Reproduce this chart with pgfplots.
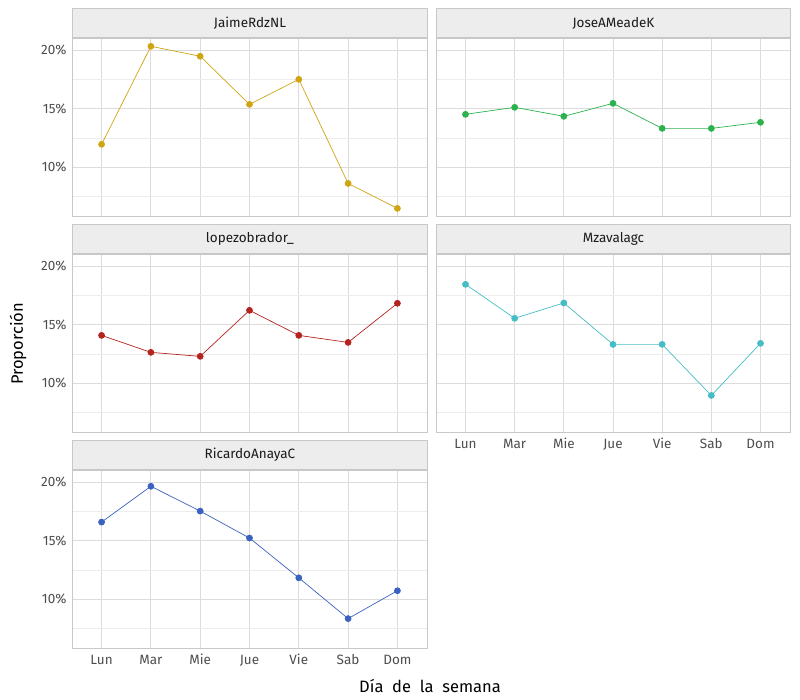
\documentclass[border=0pt]{standalone}
\usepackage{fontspec}
\setmainfont{Fira Sans}
\usepackage{pgfplots}
\pgfplotsset{compat=1.18}
\definecolor{cJaime}{HTML}{CFA514}
\definecolor{cJose}{HTML}{2BB24C}
\definecolor{cLopez}{HTML}{B5231F}
\definecolor{cMza}{HTML}{45BDC4}
\definecolor{cRic}{HTML}{3A62BF}
\definecolor{gridmajor}{HTML}{DCDCDC}
\definecolor{gridminor}{HTML}{EDEDED}
\definecolor{panelborder}{HTML}{C8C8C8}
\definecolor{stripfill}{HTML}{EDEDED}
\definecolor{ticktext}{HTML}{4D4D4D}
\definecolor{striptext}{HTML}{1A1A1A}
\tikzset{
  strip/.style={fill=stripfill, draw=panelborder, line width=0.9pt, minimum width=355pt, minimum height=29pt,
    anchor=south west, inner sep=0pt, font=\fontsize{13.5}{15}\selectfont, text=striptext},
}
\pgfplotsset{
  panel/.style={
    scale only axis, width=355pt, height=178pt, anchor=south west,
    xmin=-0.6, xmax=6.6, ymin=5.85, ymax=21.05,
    xtick={0,1,2,3,4,5,6}, xticklabels={Lun,Mar,Mie,Jue,Vie,Sab,Dom},
    ytick={10,15,20}, minor ytick={7.5,12.5,17.5},
    grid=both,
    major grid style={draw=gridmajor, line width=0.9pt},
    minor grid style={draw=gridminor, line width=0.7pt},
    axis line style={draw=panelborder, line width=0.9pt},
    major tick length=0pt, minor tick length=0pt,
    /pgf/number format/assume math mode=true,
    yticklabel={\pgfmathprintnumber{\tick}\%},
    tick label style={font=\fontsize{13.5}{15}\selectfont, text=ticktext},
    xticklabel style={yshift=-5pt, text height=1.5ex, text depth=0.3ex},
    yticklabel style={xshift=-2pt},
    clip=false,
  },
  ser/.style={line width=0.7pt, color=#1, mark=*, mark size=3pt, mark options={fill=#1, draw=#1}},
}
\begin{document}
\begin{tikzpicture}[x=1pt,y=1pt]
\path[use as bounding box] (0,0) rectangle (800,700);
% Row 1 left: JaimeRdzNL
\begin{axis}[panel, at={(72pt,484pt)}, xticklabels={}]
\addplot[ser=cJaime] coordinates {(0,11.97) (1,20.34) (2,19.49) (3,15.38) (4,17.52) (5,8.63) (6,6.50)};
\end{axis}
\node[strip] at (current axis.north west) {JaimeRdzNL};
% Row 1 right: JoseAMeadeK
\begin{axis}[panel, at={(436pt,484pt)}, width=354pt, xticklabels={}, yticklabels={}]
\addplot[ser=cJose] coordinates {(0,14.53) (1,15.13) (2,14.36) (3,15.47) (4,13.33) (5,13.33) (6,13.85)};
\end{axis}
\node[strip, minimum width=354pt] at (current axis.north west) {JoseAMeadeK};
% Row 2 left: lopezobrador_
\begin{axis}[panel, at={(72pt,268pt)}, xticklabels={}]
\addplot[ser=cLopez] coordinates {(0,14.10) (1,12.65) (2,12.31) (3,16.24) (4,14.10) (5,13.50) (6,16.84)};
\end{axis}
\node[strip] at (current axis.north west) {lopezobrador\_};
% Row 2 right: Mzavalagc
\begin{axis}[panel, at={(436pt,268pt)}, width=354pt, yticklabels={}]
\addplot[ser=cMza] coordinates {(0,18.46) (1,15.56) (2,16.87) (3,13.33) (4,13.33) (5,8.97) (6,13.42)};
\end{axis}
\node[strip, minimum width=354pt] at (current axis.north west) {Mzavalagc};
% Row 3 left: RicardoAnayaC
\begin{axis}[panel, at={(72pt,52pt)}]
\addplot[ser=cRic] coordinates {(0,16.60) (1,19.66) (2,17.54) (3,15.24) (4,11.84) (5,8.36) (6,10.74)};
\end{axis}
\node[strip] at (current axis.north west) {RicardoAnayaC};
% axis titles
\node[rotate=90, font=\fontsize{16.5}{18}\selectfont] at (18,356) {Proporción};
\node[font=\fontsize{16.5}{18}\selectfont] at (430,14) {Día\ \ de\ \ la\ \ semana};
\end{tikzpicture}
\end{document}
